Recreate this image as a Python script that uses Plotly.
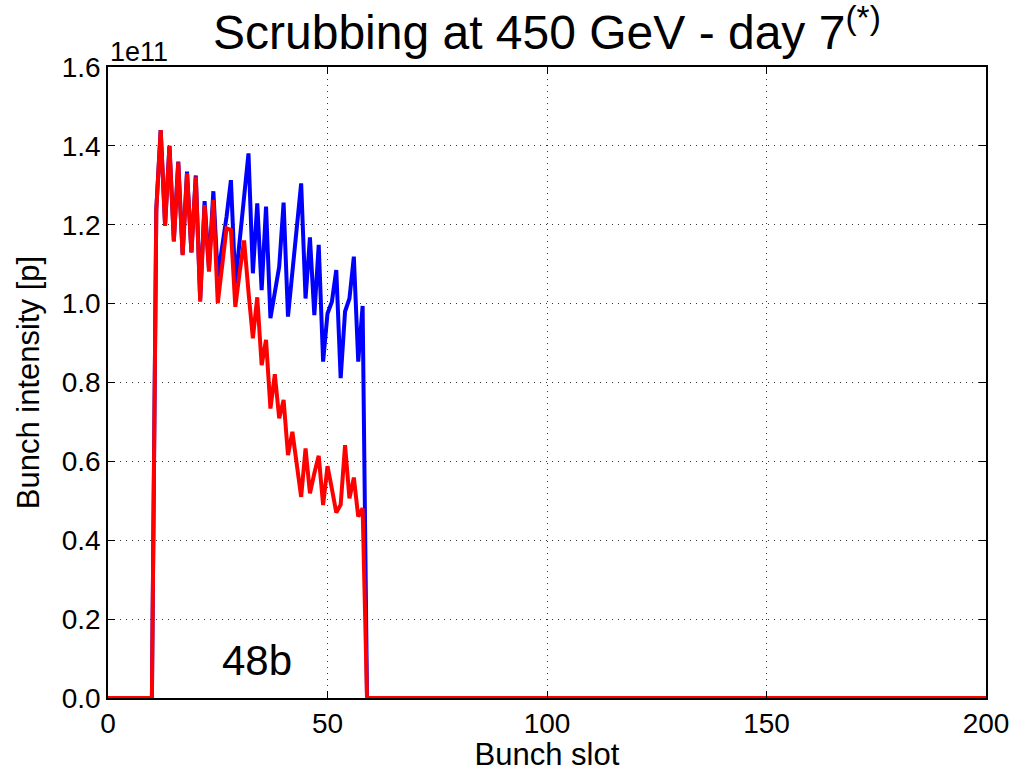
import plotly.graph_objects as go

# Bunch slots 0..200
n_slots = 201
first_slot = 11  # first filled slot
# Bunch intensity (units of 1e11 p) for filled slots 11..58
blue_filled = [1.24, 1.44, 1.20, 1.40, 1.16, 1.36, 1.125, 1.335, 1.13, 1.325,
               1.01, 1.26, 1.09, 1.285, 1.068, 1.14, 1.22, 1.313, 1.051, 1.16,
               1.27, 1.381, 1.077, 1.254, 1.034, 1.246, 0.963, 1.03, 1.094, 1.256,
               0.967, 1.08, 1.19, 1.305, 1.013, 1.168, 0.971, 1.149, 0.853, 0.975,
               1.005, 1.085, 0.811, 0.98, 1.013, 1.119, 0.853, 0.994]
red_filled = [1.237, 1.44, 1.197, 1.40, 1.157, 1.358, 1.123, 1.33, 1.13, 1.322,
              1.005, 1.25, 1.081, 1.263, 1.001, 1.10, 1.191, 1.187, 0.992, 1.08,
              1.16, 1.03, 0.912, 1.016, 0.844, 0.908, 0.734, 0.821, 0.709, 0.756,
              0.616, 0.675, 0.59, 0.51, 0.633, 0.519, 0.57, 0.614, 0.489, 0.588,
              0.53, 0.47, 0.49, 0.641, 0.506, 0.559, 0.46, 0.481]

slots = list(range(n_slots))
pad_after = n_slots - first_slot - len(blue_filled)
blue = [0.0] * first_slot + blue_filled + [0.0] * pad_after
red = [0.0] * first_slot + red_filled + [0.0] * pad_after

x_ticks = [0, 50, 100, 150, 200]
y_ticks = [0.0, 0.2, 0.4, 0.6, 0.8, 1.0, 1.2, 1.4, 1.6]

FONT = "Liberation Sans, Arial, sans-serif"

fig = go.Figure()
fig.add_trace(go.Scatter(x=slots, y=blue, mode="lines",
                         line=dict(color="#0000ff", width=4), showlegend=False))
fig.add_trace(go.Scatter(x=slots, y=red, mode="lines",
                         line=dict(color="#ff0000", width=4), showlegend=False))

axis_common = dict(
    showline=True, linecolor="black", linewidth=1.5, mirror="allticks",
    ticks="inside", ticklen=7, tickwidth=1, tickcolor="black",
    showgrid=True, gridcolor="#333333", gridwidth=1, griddash="1px,5px",
    zeroline=False, automargin=False,
    tickfont=dict(family=FONT, size=28, color="black"),
)

fig.update_xaxes(range=[0, 200], tickvals=x_ticks,
                 title=dict(text="Bunch slot", font=dict(family=FONT, size=31, color="black"), standoff=12),
                 **axis_common)
fig.update_yaxes(range=[0, 1.6], tickvals=y_ticks, tickformat=".1f",
                 title=dict(text="Bunch intensity [p]", font=dict(family=FONT, size=31, color="black"), standoff=13),
                 **axis_common)

fig.add_annotation(text="Scrubbing at 450 GeV - day 7<sup>(*)</sup>", xref="paper", yref="paper",
                   x=0.5, y=1, xanchor="center", yanchor="bottom", yshift=6, showarrow=False,
                   font=dict(family=FONT, size=48, color="black"))
fig.add_annotation(text="1e11", xref="paper", yref="paper", x=0, y=1,
                   xanchor="left", yanchor="bottom", yshift=-2, showarrow=False,
                   font=dict(family=FONT, size=27, color="black"))
fig.add_annotation(text="48b", xref="x", yref="y", x=34, y=0.095,
                   xanchor="center", yanchor="middle", showarrow=False,
                   font=dict(family=FONT, size=42, color="black"))

fig.update_layout(width=1012, height=772, margin=dict(l=108, r=26, t=67, b=74),
                  plot_bgcolor="white", paper_bgcolor="white")

fig.write_html("out.html")
